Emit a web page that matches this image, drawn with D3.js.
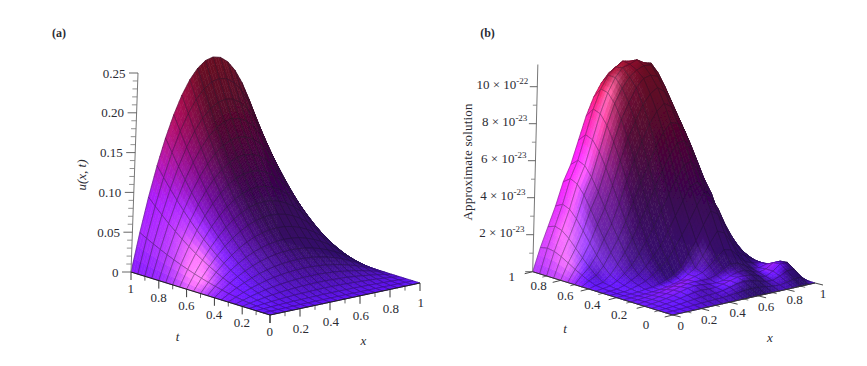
<!DOCTYPE html>
<html><head><meta charset="utf-8">
<script src="https://cdn.jsdelivr.net/npm/d3@7/dist/d3.min.js"></script>
<style>
html,body{margin:0;padding:0;background:#fff}
text{font-family:"Liberation Serif","Times New Roman",serif;fill:#2b2b33}
</style></head><body>
<svg id="chart" width="867" height="366" viewBox="0 0 867 366"></svg>
<script>
// grid coordinates
const xValues=[0,.05,.1,.15,.2,.25,.3,.35,.4,.45,.5,.55,.6,.65,.7,.75,.8,.85,.9,.95,1];
const tValues=[0,.05,.1,.15,.2,.25,.3,.35,.4,.45,.5,.55,.6,.65,.7,.75,.8,.85,.9,.95,1];
// panel (a): u(x,t), one row per t value, one column per x value
const surfaceA=[
[0,0,0,0,0,0,0,0,0,0,0,0,0,0,0,0,0,0,0,0,0],
[0,.0001,.0002,.0003,.0004,.0005,.0005,.0006,.0006,.0006,.0006,.0006,.0006,.0006,.0005,.0005,.0004,.0003,.0002,.0001,0],
[0,.0005,.0009,.0013,.0016,.0019,.0021,.0023,.0024,.0025,.0025,.0025,.0024,.0023,.0021,.0019,.0016,.0013,.0009,.0005,0],
[0,.0011,.0020,.0029,.0036,.0042,.0047,.0051,.0054,.0056,.0056,.0056,.0054,.0051,.0047,.0042,.0036,.0029,.0020,.0011,0],
[0,.0019,.0036,.0051,.0064,.0075,.0084,.0091,.0096,.0099,.0100,.0099,.0096,.0091,.0084,.0075,.0064,.0051,.0036,.0019,0],
[0,.0030,.0056,.0080,.0100,.0117,.0131,.0142,.0150,.0155,.0156,.0155,.0150,.0142,.0131,.0117,.0100,.0080,.0056,.0030,0],
[0,.0043,.0081,.0115,.0144,.0169,.0189,.0205,.0216,.0223,.0225,.0223,.0216,.0205,.0189,.0169,.0144,.0115,.0081,.0043,0],
[0,.0058,.0110,.0156,.0196,.0230,.0257,.0279,.0294,.0303,.0306,.0303,.0294,.0279,.0257,.0230,.0196,.0156,.0110,.0058,0],
[0,.0076,.0144,.0204,.0256,.0300,.0336,.0364,.0384,.0396,.0400,.0396,.0384,.0364,.0336,.0300,.0256,.0204,.0144,.0076,0],
[0,.0096,.0182,.0258,.0324,.0380,.0425,.0461,.0486,.0501,.0506,.0501,.0486,.0461,.0425,.0380,.0324,.0258,.0182,.0096,0],
[0,.0119,.0225,.0319,.0400,.0469,.0525,.0569,.0600,.0619,.0625,.0619,.0600,.0569,.0525,.0469,.0400,.0319,.0225,.0119,0],
[0,.0144,.0272,.0386,.0484,.0567,.0635,.0688,.0726,.0749,.0756,.0749,.0726,.0688,.0635,.0567,.0484,.0386,.0272,.0144,0],
[0,.0171,.0324,.0459,.0576,.0675,.0756,.0819,.0864,.0891,.0900,.0891,.0864,.0819,.0756,.0675,.0576,.0459,.0324,.0171,0],
[0,.0201,.0380,.0539,.0676,.0792,.0887,.0961,.1014,.1046,.1056,.1046,.1014,.0961,.0887,.0792,.0676,.0539,.0380,.0201,0],
[0,.0233,.0441,.0625,.0784,.0919,.1029,.1115,.1176,.1213,.1225,.1213,.1176,.1115,.1029,.0919,.0784,.0625,.0441,.0233,0],
[0,.0267,.0506,.0717,.0900,.1055,.1181,.1280,.1350,.1392,.1406,.1392,.1350,.1280,.1181,.1055,.0900,.0717,.0506,.0267,0],
[0,.0304,.0576,.0816,.1024,.1200,.1344,.1456,.1536,.1584,.1600,.1584,.1536,.1456,.1344,.1200,.1024,.0816,.0576,.0304,0],
[0,.0343,.0650,.0921,.1156,.1355,.1517,.1644,.1734,.1788,.1806,.1788,.1734,.1644,.1517,.1355,.1156,.0921,.0650,.0343,0],
[0,.0385,.0729,.1033,.1296,.1519,.1701,.1843,.1944,.2005,.2025,.2005,.1944,.1843,.1701,.1519,.1296,.1033,.0729,.0385,0],
[0,.0429,.0812,.1151,.1444,.1692,.1895,.2053,.2166,.2234,.2256,.2234,.2166,.2053,.1895,.1692,.1444,.1151,.0812,.0429,0],
[0,.0475,.09,.1275,.16,.1875,.21,.2275,.24,.2475,.25,.2475,.24,.2275,.21,.1875,.16,.1275,.09,.0475,0]
];
// panel (b): approximate solution in units of 1e-23
const surfaceB=[
[0,0,0,0,0,0,0,0,0,0,0,0,0,0,0,0,0,0,0,0,0],
[0,.01,.02,.04,.07,.09,.1,.12,.13,.16,.2,.25,.27,.25,.2,.14,.12,.18,.28,.28,0],
[0,.02,.05,.09,.14,.18,.22,.24,.25,.3,.4,.5,.55,.5,.4,.28,.25,.4,.6,.6,0],
[0,.03,.07,.13,.2,.28,.35,.38,.36,.36,.45,.55,.65,.65,.6,.45,.35,.55,.85,.85,0],
[0,.04,.09,.16,.24,.35,.45,.5,.48,.42,.4,.45,.6,.72,.75,.6,.45,.55,.8,.8,0],
[0,.04,.08,.14,.22,.32,.42,.5,.52,.5,.5,.62,.85,1.05,1.0,.8,.55,.5,.6,.55,0],
[0,.03,.06,.1,.16,.24,.33,.42,.5,.6,.72,1.0,1.35,1.7,1.6,1.2,.8,.65,.6,.42,0],
[0,.01,.03,.05,.08,.12,.17,.25,.36,.6,.85,1.4,2.02,2.59,2.4,1.8,1.2,.9,.65,.4,0],
[0,.01,.02,.04,.1,.14,.23,.37,.55,.85,1.5,2.11,2.88,3.56,3.3,2.6,1.75,1.25,.85,.45,0],
[0,.01,.02,.09,.2,.34,.58,.89,1.21,1.78,2.4,3.07,3.81,4.43,4.1,3.4,2.5,1.75,1.1,.55,0],
[0,.03,.05,.16,.36,.57,.93,1.39,1.86,2.56,3.31,4.03,4.73,4.9,4.4,3.6,2.7,2.0,1.4,.65,0],
[0,.05,.1,.29,.61,.97,1.49,2.13,2.79,3.56,4.37,5.1,5.76,5.9,5.3,4.4,3.4,2.7,1.8,.8,0],
[0,.1,.19,.5,.99,1.54,2.21,3.01,3.81,4.66,5.53,6.26,6.84,6.9,6.3,5.5,4.5,3.7,2.55,1.21,0],
[0,.23,.43,.86,1.5,2.17,3.01,3.98,4.93,5.82,6.72,7.39,7.85,7.7,7.2,6.3,5.2,4.2,2.85,1.35,0],
[0,.42,.77,1.33,2.11,2.85,3.85,4.98,6.05,6.94,7.82,8.41,8.76,8.5,7.9,7.0,5.8,4.6,3.12,1.48,0],
[0,.62,1.15,1.86,2.78,3.59,4.71,5.95,7.07,7.92,8.73,9.24,9.5,9.2,8.6,7.6,6.3,5.0,3.34,1.58,0],
[0,.85,1.56,2.4,3.47,4.33,5.55,6.86,8.0,8.8,9.54,9.96,10.05,9.9,9.3,8.3,6.9,5.3,3.53,1.67,0],
[0,1.07,1.97,2.94,4.13,5.02,6.3,7.64,8.74,9.48,10.0,10.3,10.45,10.4,9.9,9.0,7.5,5.6,3.69,1.75,0],
[0,1.24,2.28,3.35,4.62,5.53,6.84,8.16,9.21,9.94,10.4,10.5,10.65,10.4,10.3,9.2,7.8,5.9,3.8,1.8,0],
[0,1.3,2.4,3.5,4.8,5.7,7,8.3,9.3,9.96,10.3,10.55,10.45,10.3,9.9,9.11,7.64,5.78,3.72,1.76,0],
[0,1.22,2.26,3.29,4.51,5.36,6.58,7.8,8.74,9.4,9.86,10.1,10.2,9.94,9.48,8.56,7.18,5.43,3.5,1.66,0]
];
// tick labels
const zTicksA=[0,.05,.1,.15,.2,.25];
const zTickLabelsA=["0","0.05","0.10","0.15","0.20","0.25"];
const zTicksB=[2,4,6,8,10];
const zTickMantissaB=["2","4","6","8","10"];
const zTickExponentB=["-23","-23","-23","-23","-22"];
const baseTicks=[0,.2,.4,.6,.8,1];
const baseTickLabels=["0","0.2","0.4","0.6","0.8","1"];
const minorBaseTicks=[.1,.3,.5,.7,.9];

const svg=d3.select("#chart");
const defs=svg.append("defs");
defs.append("filter").attr("id","soft").attr("x","-5%").attr("y","-5%").attr("width","110%").attr("height","110%")
  .append("feGaussianBlur").attr("stdDeviation",0.3);

const hue=d3.scaleLinear().domain([0,.15,.4,.7,1])
  .range(["#6414ff","#8020ff","#8a10c0","#c01070","#ff2050"]);

function drawPanel(cfg){
  const g=svg.append("g");
  const sx=d3.scaleLinear().domain([0,1]).range([[0,0],cfg.xVec]);
  const st=d3.scaleLinear().domain([0,1]).range([[0,0],cfg.tVec]);
  const sz=d3.scaleLinear().domain([0,cfg.zRef]).range([[0,0],cfg.zVec]);
  const proj=(x,t,z)=>{
    const a=sx(x),p0=a[0],p1=a[1];
    const b=st(t),q0=b[0],q1=b[1];
    const c=sz(z);
    return [cfg.origin[0]+p0+q0+c[0],cfg.origin[1]+p1+q1+c[1]];
  };
  const n=tValues.length,m=xValues.length,M=cfg.data;
  const zMax=d3.max(M.flat());
  const light=cfg.light,gloss=cfg.gloss,gl=Math.hypot(...gloss);
  const topDim=d3.scaleLinear().domain([.72,.92]).range([1,cfg.topDim]).clamp(true);
  // vertex colours from height and slope
  const col=M.map((row,j)=>row.map((z,i)=>{
    const i0=Math.max(0,i-1),i1=Math.min(m-1,i+1),j0=Math.max(0,j-1),j1=Math.min(n-1,j+1);
    const dx=(row[i1]-row[i0])/zMax/(xValues[i1]-xValues[i0]);
    const dt=(M[j1][i]-M[j0][i])/zMax/(tValues[j1]-tValues[j0]);
    const len=Math.hypot(dx,dt,1);
    const d=(-dx*light[0]-dt*light[1]+light[2])/len;
    const sp=Math.max(0,(-dx*gloss[0]-dt*gloss[1]+gloss[2])/len/gl);
    const h=z/zMax;
    const c=d3.rgb(hue(h));
    const I=.42+cfg.gain*Math.max(d,0)*topDim(h);
    const w=Math.pow(sp,cfg.glossPower)*cfg.spec;
    return [c.r*I+255*w,c.g*I+255*w*.8,c.b*I+255*w];
  }));
  const pts=M.map((row,j)=>row.map((z,i)=>proj(xValues[i],tValues[j],z)));
  const cells=[];
  const SUB=3;
  for(let j=n-2;j>=0;j--)for(let i=m-2;i>=0;i--){cells.push({i,j});}
  const lerp=(a,b,f)=>a+(b-a)*f;
  const bil=(A,B,C,D,u,v)=>A.map((_,k)=>lerp(lerp(A[k],B[k],u),lerp(D[k],C[k],u),v));
  const cellG=g.append("g").attr("filter","url(#soft)").selectAll("g").data(cells).join("g");
  cellG.each(function(c){
    const A=pts[c.j][c.i],B=pts[c.j][c.i+1],C=pts[c.j+1][c.i+1],D=pts[c.j+1][c.i];
    const cA=col[c.j][c.i],cB=col[c.j][c.i+1],cC=col[c.j+1][c.i+1],cD=col[c.j+1][c.i];
    const subs=[];
    for(let b=0;b<SUB;b++)for(let a=0;a<SUB;a++)subs.push({a,b});
    const sel=d3.select(this);
    sel.selectAll("path.f").data(subs).join("path").attr("class","f")
      .attr("d",s=>{
        const u0=s.a/SUB,u1=(s.a+1)/SUB,v0=s.b/SUB,v1=(s.b+1)/SUB;
        const P=[[u0,v0],[u1,v0],[u1,v1],[u0,v1]].map(q=>bil(A,B,C,D,q[0],q[1]));
        return "M"+P.map(p=>p[0].toFixed(2)+","+p[1].toFixed(2)).join("L")+"Z";
      })
      .each(function(s){
        const q=bil(cA,cB,cC,cD,(s.a+.5)/SUB,(s.b+.5)/SUB);
        const f=`rgb(${q.map(v=>Math.max(0,Math.min(255,Math.round(v)))).join(",")})`;
        d3.select(this).attr("fill",f).attr("stroke",f).attr("stroke-width",.6);
      });
    sel.append("path")
      .attr("d","M"+[A,B,C,D].map(p=>p[0].toFixed(2)+","+p[1].toFixed(2)).join("L")+"Z")
      .attr("fill","none").attr("stroke","#1a1024").attr("stroke-opacity",cfg.meshOpacity).attr("stroke-width",.7);
  });
  // axes
  const axis=g.append("g").attr("stroke",cfg.axisColor).attr("fill","none");
  const line=d3.line();
  axis.append("path").attr("d",line([proj(0,1,0),proj(0,0,0)])).attr("stroke-width",1);
  axis.append("path").attr("d",line([proj(0,0,0),proj(1,0,0)])).attr("stroke-width",1);
  axis.append("path").attr("d",line([proj(0,1,0),proj(0,1,cfg.zTop)])).attr("stroke","#777").attr("stroke-width",1);
  const tick=(p,v,len)=>line([p,[p[0]+v[0]*len,p[1]+v[1]*len]]);
  baseTicks.forEach(v=>{
    axis.append("path").attr("d",tick(proj(0,v,0),cfg.tTickDir,cfg.major)).attr("stroke-width",.9);
    axis.append("path").attr("d",tick(proj(v,0,0),cfg.xTickDir,cfg.major)).attr("stroke-width",.9);
  });
  minorBaseTicks.forEach(v=>{
    axis.append("path").attr("d",tick(proj(0,v,0),cfg.tTickDir,cfg.major*.55)).attr("stroke-width",.7);
    axis.append("path").attr("d",tick(proj(v,0,0),cfg.xTickDir,cfg.major*.55)).attr("stroke-width",.7);
  });
  cfg.zMinor.forEach(v=>axis.append("path").attr("d",tick(proj(0,1,v),[-1,0],cfg.zMinorLen)).attr("stroke","#777").attr("stroke-width",.8));
  cfg.zMajor.forEach(v=>axis.append("path").attr("d",tick(proj(0,1,v),[-1,0],cfg.zMajorLen)).attr("stroke","#555").attr("stroke-width",.9));
  // base labels
  const T=g.append("g").attr("font-size",13).attr("text-anchor","middle");
  baseTicks.forEach((v,k)=>{
    const pt=proj(0,v,0),o=cfg.tLabelOffset(v);
    T.append("text").attr("x",pt[0]+o[0]).attr("y",pt[1]+o[1]+4.5).text(baseTickLabels[k]);
    if(v>0||cfg.xZero){
      const px=proj(v,0,0),q=cfg.xLabelOffset;
      T.append("text").attr("x",px[0]+q[0]).attr("y",px[1]+q[1]+4.5).text(baseTickLabels[k]);
    }
  });
  T.append("text").attr("x",cfg.tTitle[0]).attr("y",cfg.tTitle[1]+4).attr("font-style","italic").text("t");
  T.append("text").attr("x",cfg.xTitle[0]).attr("y",cfg.xTitle[1]+4).attr("font-style","italic").text("x");
  svg.append("text").attr("x",cfg.tag[0]).attr("y",cfg.tag[1]+4).attr("text-anchor","middle")
    .attr("font-size",12).attr("font-weight","bold").attr("fill","#111").text(cfg.tagText);
  return {g,proj};
}

const panelA=drawPanel({data:surfaceA,origin:[270,315],xVec:[150,-32],tVec:[-139,-43],zVec:[7,-199],zRef:.25,zTop:.25,
  zMajor:zTicksA,zMinor:[.01,.02,.03,.04,.06,.07,.08,.09,.11,.12,.13,.14,.16,.17,.18,.19,.21,.22,.23,.24],zMajorLen:9,zMinorLen:5,
  axisColor:"#222",major:8,tTickDir:[0,1],xTickDir:[0,1],meshOpacity:.5,
  light:[-.7,.55,.5],gloss:[-1.2,-.25,1],gain:1.15,spec:.55,glossPower:40,topDim:1,
  tLabelOffset:()=>[-.3,16.5],xLabelOffset:[.8,19.5],xZero:false,
  tTitle:[177.5,336.5],xTitle:[363.5,341],tag:[59,33],tagText:"(a)"});
zTicksA.forEach((v,k)=>{
  const p=panelA.proj(0,1,v);
  svg.append("text").attr("x",p[0]-12.5).attr("y",p[1]+4.5).attr("text-anchor","end").attr("font-size",13).text(zTickLabelsA[k]);
});
svg.append("text").attr("transform","translate(81.5,175) rotate(-90)").attr("y",4).attr("text-anchor","middle").attr("font-size",13).attr("font-style","italic")
  .text("u(x, t)");

const panelB=drawPanel({data:surfaceB,origin:[672.7,315],xVec:[142.3,-32],tVec:[-140,-43.3],zVec:[4.6,-185],zRef:10,zTop:11.2,
  zMajor:[0,2,4,6,8,10],zMinor:[1,3,5,7,9],zMajorLen:7.5,zMinorLen:4,
  axisColor:"#333",major:8,tTickDir:[-1,.25],xTickDir:[1,.25],meshOpacity:.45,
  light:[-.55,.75,.37],gloss:[-1.6,-.5,1],gain:1.6,spec:.45,glossPower:25,topDim:.25,
  tLabelOffset:v=>[-26.7+5.7*v,9-4.6*v],xLabelOffset:[8,10.5],xZero:true,
  tTitle:[565,329.3],xTitle:[770,338.3],tag:[487.5,33.3],tagText:"(b)"});
zTicksB.forEach((v,k)=>{
  const p=panelB.proj(0,1,v);
  const tx=svg.append("text").attr("x",p[0]-9).attr("y",p[1]+2.5).attr("text-anchor","end").attr("font-size",13);
  tx.append("tspan").text(zTickMantissaB[k]+" × 10");
  tx.append("tspan").attr("font-size",9).attr("dy",-5).text(zTickExponentB[k]);
});
svg.append("text").attr("transform","translate(468.3,162) rotate(-90)").attr("y",4).attr("text-anchor","middle").attr("font-size",13)
  .attr("textLength",117).text("Approximate solution");
</script>
</body></html>
